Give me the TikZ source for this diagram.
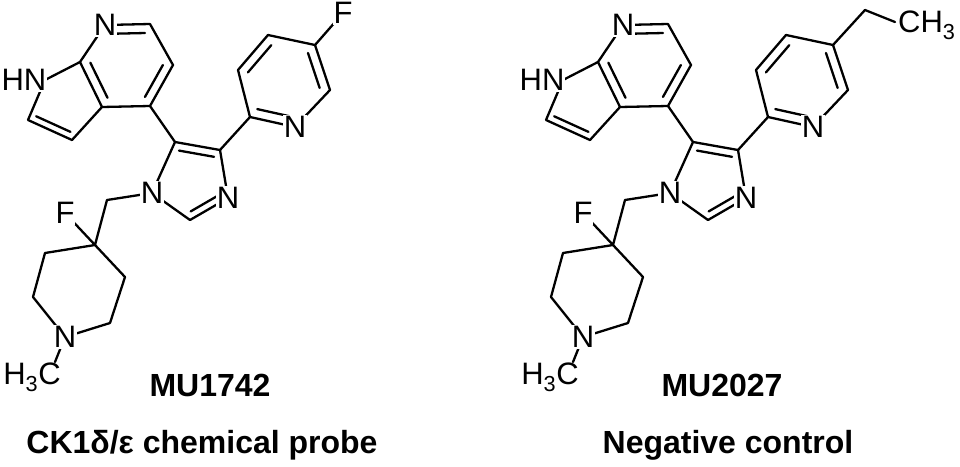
\documentclass[tikz,border=0pt]{standalone}
\usepackage{fontspec}
\setmainfont{Liberation Sans}
\usetikzlibrary{calc}
\tikzset{bond/.style={line width=2.3pt,line cap=round,line join=round},
atom/.style={fill=white,inner sep=1pt,font=\fontsize{31}{33}\selectfont},
title/.style={font=\bfseries\fontsize{32}{35}\selectfont}}
\newcommand\dbl[3]{\draw[bond] ($(#1)!0.22!(#3)$) -- ($(#2)!0.22!(#3)$);}
\newcommand\drawmol[1]{%
\coordinate (N7) at (105,25); \coordinate (C6) at (150,24); \coordinate (C5) at (173,65);
\coordinate (C4) at (150,106); \coordinate (C3a) at (102,107); \coordinate (C7a) at (80,62);
\coordinate (N1) at (45,80); \coordinate (C2) at (28,120); \coordinate (C3) at (72,140);
\coordinate (Ra) at (127,65); \coordinate (Rb) at (65,103);
\coordinate (I5) at (175,142); \coordinate (I4) at (220,150); \coordinate (I3) at (228,198);
\coordinate (I2) at (190,220); \coordinate (I1) at (152,193); \coordinate (Ri) at (193,181);
\coordinate (P2) at (250,117); \coordinate (PN) at (295,127); \coordinate (P6) at (330,90);
\coordinate (P5) at (315,45); \coordinate (P4) at (268,35); \coordinate (P3) at (238,70);
\coordinate (Rp) at (283,81);
\coordinate (CH2) at (107,200); \coordinate (Cq) at (95,245); \coordinate (Fq) at (65,213);
\coordinate (Ca) at (45,253); \coordinate (Cb) at (33,297); \coordinate (Np) at (65,337);
\coordinate (Cc) at (110,323); \coordinate (Cd) at (125,277); \coordinate (Me) at (55,362);
\draw[bond] (N7)--(C6)--(C5)--(C4)--(C3a)--(C7a)--cycle;
\draw[bond] (C7a)--(N1)--(C2)--(C3)--(C3a);
\dbl{N7}{C6}{Ra}\dbl{C5}{C4}{Ra}\dbl{C3a}{C7a}{Ra}\dbl{C2}{C3}{Rb}
\draw[bond] (C4)--(I5);
\draw[bond] (I5)--(I4)--(I3)--(I2)--(I1)--cycle;
\dbl{I5}{I4}{Ri}\dbl{I3}{I2}{Ri}
\draw[bond] (I4)--(P2);
\draw[bond] (P2)--(PN)--(P6)--(P5)--(P4)--(P3)--cycle;
\dbl{P2}{PN}{Rp}\dbl{P6}{P5}{Rp}\dbl{P4}{P3}{Rp}
\draw[bond] (I1)--(CH2)--(Cq)--(Fq);
\draw[bond] (Cq)--(Ca)--(Cb)--(Np)--(Cc)--(Cd)--(Cq);
\draw[bond] (Np)--(Me);
\node[atom] (#1n7) at (N7) {N};
\node[atom] (#1n1) at (24,80) {HN};
\node[atom] (#1i1) at (I1) {N};
\node[atom] (#1i3) at (I3) {N};
\node[atom] (#1pn) at (PN) {N};
\node[atom] (#1fq) at (Fq) {F};
\node[atom] (#1np) at (Np) {N};
\node[atom,fill=none] (#1me) at (32,377) {H\textsubscript{3}C};
}
\begin{document}
\begin{tikzpicture}[x=1pt,y=-1pt]
\useasboundingbox (0,0) rectangle (960,466);
\begin{scope}
\drawmol{L}
\coordinate (Fx) at (343,13);
\draw[bond] (P5)--(Fx);
\node[atom] (Lf) at (Fx) {F};
\end{scope}
\begin{scope}[shift={(518,0)}]
\drawmol{R}
\coordinate (E1) at (347,10); \coordinate (E2) at (377,22);
\draw[bond] (P5)--(E1)--(E2);
\node[atom,anchor=west,inner sep=0pt] (Rme2) at (380,25) {CH\textsubscript{3}};
\end{scope}
\node[title] (t1) at (210,385) {MU1742};
\node[title] (t2) at (722,385) {MU2027};
\node[title] (s1) at (202,445) {CK1δ/ε chemical probe};
\node[title] (s2) at (728,445) {Negative control};
\end{tikzpicture}
\end{document}
